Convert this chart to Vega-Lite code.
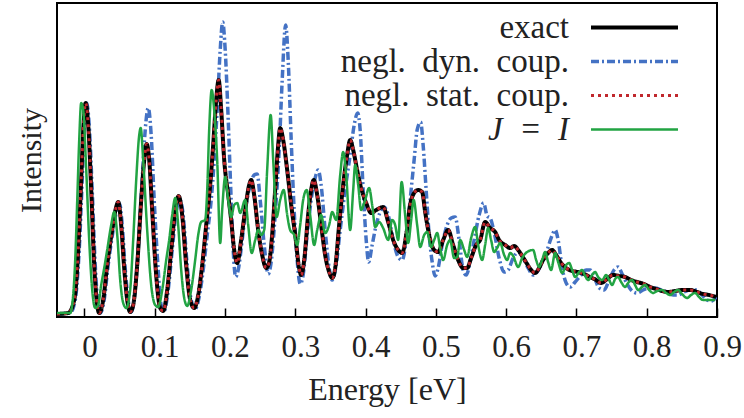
{
"$schema": "https://vega.github.io/schema/vega-lite/v6.json",
"width": 660, "height": 314,
"autosize": {"type": "none"},
"padding": {"left": 57, "top": 3, "right": 27, "bottom": 101},
"background": "white",
"config": {"view": {"stroke": "#000", "strokeWidth": 2}},
"data": {"values": [
{"s":"b","x":-0.039,"y":3},{"s":"b","x":-0.0202,"y":4},{"s":"b","x":-0.0131,"y":17},{"s":"b","x":-0.0074,"y":67},{"s":"b","x":-0.0031,"y":137},{"s":"b","x":-0.0003,"y":187},{"s":"b","x":0.0033,"y":214},{"s":"b","x":0.0068,"y":192},{"s":"b","x":0.0111,"y":127},{"s":"b","x":0.0154,"y":52},{"s":"b","x":0.0196,"y":12},{"s":"b","x":0.0225,"y":4},{"s":"b","x":0.0281,"y":17},{"s":"b","x":0.0338,"y":52},{"s":"b","x":0.041,"y":87},{"s":"b","x":0.0467,"y":109},{"s":"b","x":0.0502,"y":113},{"s":"b","x":0.0538,"y":92},{"s":"b","x":0.058,"y":49},{"s":"b","x":0.0623,"y":17},{"s":"b","x":0.0666,"y":5},{"s":"b","x":0.0708,"y":17},{"s":"b","x":0.0765,"y":67},{"s":"b","x":0.0822,"y":137},{"s":"b","x":0.0865,"y":187},{"s":"b","x":0.0908,"y":209},{"s":"b","x":0.095,"y":182},{"s":"b","x":0.0993,"y":117},{"s":"b","x":0.105,"y":47},{"s":"b","x":0.1092,"y":12},{"s":"b","x":0.1135,"y":6},{"s":"b","x":0.1192,"y":27},{"s":"b","x":0.1249,"y":67},{"s":"b","x":0.1306,"y":105},{"s":"b","x":0.1363,"y":117},{"s":"b","x":0.1405,"y":102},{"s":"b","x":0.1462,"y":52},{"s":"b","x":0.1519,"y":17},{"s":"b","x":0.1576,"y":8},{"s":"b","x":0.1633,"y":20},{"s":"b","x":0.169,"y":47},{"s":"b","x":0.1747,"y":82},{"s":"b","x":0.1804,"y":117},{"s":"b","x":0.1847,"y":157},{"s":"b","x":0.1889,"y":207},{"s":"b","x":0.1932,"y":267},{"s":"b","x":0.1967,"y":295},{"s":"b","x":0.2003,"y":267},{"s":"b","x":0.2046,"y":197},{"s":"b","x":0.2088,"y":117},{"s":"b","x":0.2117,"y":67},{"s":"b","x":0.2152,"y":40},{"s":"b","x":0.2188,"y":47},{"s":"b","x":0.2245,"y":77},{"s":"b","x":0.2302,"y":112},{"s":"b","x":0.2359,"y":132},{"s":"b","x":0.2415,"y":142},{"s":"b","x":0.2458,"y":143},{"s":"b","x":0.2501,"y":117},{"s":"b","x":0.2558,"y":72},{"s":"b","x":0.2615,"y":43},{"s":"b","x":0.2657,"y":55},{"s":"b","x":0.2714,"y":102},{"s":"b","x":0.2771,"y":167},{"s":"b","x":0.2814,"y":237},{"s":"b","x":0.2863,"y":292},{"s":"b","x":0.2899,"y":257},{"s":"b","x":0.2942,"y":177},{"s":"b","x":0.2984,"y":107},{"s":"b","x":0.3027,"y":57},{"s":"b","x":0.307,"y":33},{"s":"b","x":0.3112,"y":42},{"s":"b","x":0.3169,"y":82},{"s":"b","x":0.3226,"y":117},{"s":"b","x":0.3283,"y":139},{"s":"b","x":0.3326,"y":147},{"s":"b","x":0.3368,"y":132},{"s":"b","x":0.3425,"y":87},{"s":"b","x":0.3482,"y":49},{"s":"b","x":0.3525,"y":37},{"s":"b","x":0.3582,"y":52},{"s":"b","x":0.3639,"y":87},{"s":"b","x":0.371,"y":127},{"s":"b","x":0.3781,"y":162},{"s":"b","x":0.3838,"y":192},{"s":"b","x":0.3888,"y":204},{"s":"b","x":0.3923,"y":187},{"s":"b","x":0.3966,"y":127},{"s":"b","x":0.4009,"y":77},{"s":"b","x":0.4044,"y":55},{"s":"b","x":0.4094,"y":72},{"s":"b","x":0.4151,"y":92},{"s":"b","x":0.4208,"y":105},{"s":"b","x":0.4265,"y":110},{"s":"b","x":0.4322,"y":102},{"s":"b","x":0.4393,"y":77},{"s":"b","x":0.4464,"y":60},{"s":"b","x":0.4521,"y":57},{"s":"b","x":0.4578,"y":77},{"s":"b","x":0.4634,"y":117},{"s":"b","x":0.4691,"y":157},{"s":"b","x":0.4734,"y":187},{"s":"b","x":0.4784,"y":195},{"s":"b","x":0.4819,"y":172},{"s":"b","x":0.4862,"y":127},{"s":"b","x":0.4905,"y":82},{"s":"b","x":0.4948,"y":55},{"s":"b","x":0.499,"y":41},{"s":"b","x":0.5033,"y":49},{"s":"b","x":0.509,"y":72},{"s":"b","x":0.5147,"y":89},{"s":"b","x":0.5218,"y":99},{"s":"b","x":0.5275,"y":100},{"s":"b","x":0.5331,"y":77},{"s":"b","x":0.5388,"y":47},{"s":"b","x":0.5431,"y":42},{"s":"b","x":0.5488,"y":55},{"s":"b","x":0.5545,"y":77},{"s":"b","x":0.5616,"y":102},{"s":"b","x":0.568,"y":114},{"s":"b","x":0.573,"y":101},{"s":"b","x":0.5772,"y":99},{"s":"b","x":0.5829,"y":85},{"s":"b","x":0.59,"y":59},{"s":"b","x":0.5971,"y":45},{"s":"b","x":0.6028,"y":47},{"s":"b","x":0.6099,"y":59},{"s":"b","x":0.6171,"y":65},{"s":"b","x":0.6242,"y":59},{"s":"b","x":0.6313,"y":49},{"s":"b","x":0.6384,"y":42},{"s":"b","x":0.6441,"y":45},{"s":"b","x":0.6512,"y":55},{"s":"b","x":0.6583,"y":67},{"s":"b","x":0.664,"y":79},{"s":"b","x":0.6697,"y":87},{"s":"b","x":0.674,"y":77},{"s":"b","x":0.6797,"y":49},{"s":"b","x":0.6854,"y":34},{"s":"b","x":0.6911,"y":30},{"s":"b","x":0.6982,"y":35},{"s":"b","x":0.7067,"y":42},{"s":"b","x":0.7138,"y":47},{"s":"b","x":0.7195,"y":47},{"s":"b","x":0.7252,"y":40},{"s":"b","x":0.7323,"y":29},{"s":"b","x":0.7394,"y":27},{"s":"b","x":0.7465,"y":37},{"s":"b","x":0.7536,"y":47},{"s":"b","x":0.7593,"y":50},{"s":"b","x":0.765,"y":43},{"s":"b","x":0.7721,"y":33},{"s":"b","x":0.7792,"y":26},{"s":"b","x":0.7863,"y":24},{"s":"b","x":0.7949,"y":27},{"s":"b","x":0.8034,"y":29},{"s":"b","x":0.8119,"y":29},{"s":"b","x":0.8205,"y":27},{"s":"b","x":0.829,"y":25},{"s":"b","x":0.8375,"y":22},{"s":"b","x":0.8446,"y":22},{"s":"b","x":0.8532,"y":25},{"s":"b","x":0.8617,"y":27},{"s":"b","x":0.8703,"y":27},{"s":"b","x":0.8788,"y":22},{"s":"b","x":0.8859,"y":17},{"s":"b","x":0.8916,"y":16},{"s":"b","x":0.8987,"y":20},
{"s":"a","x":-0.039,"y":3},{"s":"a","x":-0.023,"y":4},{"s":"a","x":-0.0145,"y":17},{"s":"a","x":-0.0088,"y":67},{"s":"a","x":-0.0046,"y":137},{"s":"a","x":-0.0017,"y":187},{"s":"a","x":0.0018,"y":214},{"s":"a","x":0.0054,"y":192},{"s":"a","x":0.0097,"y":127},{"s":"a","x":0.0139,"y":52},{"s":"a","x":0.0182,"y":12},{"s":"a","x":0.0211,"y":4},{"s":"a","x":0.0267,"y":17},{"s":"a","x":0.0324,"y":52},{"s":"a","x":0.0395,"y":87},{"s":"a","x":0.0452,"y":110},{"s":"a","x":0.0481,"y":115},{"s":"a","x":0.0523,"y":92},{"s":"a","x":0.0566,"y":49},{"s":"a","x":0.0609,"y":17},{"s":"a","x":0.0651,"y":5},{"s":"a","x":0.0694,"y":12},{"s":"a","x":0.0751,"y":52},{"s":"a","x":0.0808,"y":117},{"s":"a","x":0.0851,"y":157},{"s":"a","x":0.0886,"y":173},{"s":"a","x":0.0922,"y":157},{"s":"a","x":0.0964,"y":107},{"s":"a","x":0.1021,"y":42},{"s":"a","x":0.1078,"y":9},{"s":"a","x":0.1121,"y":6},{"s":"a","x":0.1178,"y":27},{"s":"a","x":0.1235,"y":67},{"s":"a","x":0.1292,"y":107},{"s":"a","x":0.1341,"y":121},{"s":"a","x":0.1391,"y":102},{"s":"a","x":0.1448,"y":52},{"s":"a","x":0.1505,"y":17},{"s":"a","x":0.1562,"y":9},{"s":"a","x":0.1619,"y":22},{"s":"a","x":0.1676,"y":52},{"s":"a","x":0.1733,"y":92},{"s":"a","x":0.1789,"y":132},{"s":"a","x":0.1832,"y":172},{"s":"a","x":0.1875,"y":217},{"s":"a","x":0.191,"y":237},{"s":"a","x":0.1946,"y":207},{"s":"a","x":0.1989,"y":157},{"s":"a","x":0.2046,"y":122},{"s":"a","x":0.2088,"y":97},{"s":"a","x":0.2131,"y":67},{"s":"a","x":0.2174,"y":54},{"s":"a","x":0.223,"y":77},{"s":"a","x":0.2287,"y":107},{"s":"a","x":0.2344,"y":132},{"s":"a","x":0.2373,"y":137},{"s":"a","x":0.2415,"y":122},{"s":"a","x":0.2472,"y":87},{"s":"a","x":0.2529,"y":62},{"s":"a","x":0.2586,"y":49},{"s":"a","x":0.2629,"y":55},{"s":"a","x":0.2671,"y":82},{"s":"a","x":0.2714,"y":127},{"s":"a","x":0.2757,"y":172},{"s":"a","x":0.2785,"y":189},{"s":"a","x":0.2828,"y":177},{"s":"a","x":0.2885,"y":147},{"s":"a","x":0.2942,"y":112},{"s":"a","x":0.2999,"y":82},{"s":"a","x":0.3055,"y":49},{"s":"a","x":0.3084,"y":42},{"s":"a","x":0.3127,"y":57},{"s":"a","x":0.3183,"y":102},{"s":"a","x":0.3226,"y":127},{"s":"a","x":0.3262,"y":137},{"s":"a","x":0.3312,"y":122},{"s":"a","x":0.3368,"y":92},{"s":"a","x":0.3425,"y":62},{"s":"a","x":0.3482,"y":45},{"s":"a","x":0.3525,"y":39},{"s":"a","x":0.3568,"y":49},{"s":"a","x":0.3624,"y":92},{"s":"a","x":0.3681,"y":132},{"s":"a","x":0.3738,"y":162},{"s":"a","x":0.3781,"y":177},{"s":"a","x":0.3824,"y":167},{"s":"a","x":0.388,"y":147},{"s":"a","x":0.3937,"y":129},{"s":"a","x":0.4009,"y":114},{"s":"a","x":0.408,"y":104},{"s":"a","x":0.4151,"y":107},{"s":"a","x":0.425,"y":110},{"s":"a","x":0.4322,"y":95},{"s":"a","x":0.4393,"y":77},{"s":"a","x":0.4464,"y":67},{"s":"a","x":0.4521,"y":64},{"s":"a","x":0.4578,"y":82},{"s":"a","x":0.4634,"y":112},{"s":"a","x":0.4691,"y":124},{"s":"a","x":0.4748,"y":127},{"s":"a","x":0.4805,"y":125},{"s":"a","x":0.4848,"y":105},{"s":"a","x":0.4905,"y":82},{"s":"a","x":0.4976,"y":67},{"s":"a","x":0.5033,"y":65},{"s":"a","x":0.5104,"y":77},{"s":"a","x":0.5175,"y":87},{"s":"a","x":0.5246,"y":72},{"s":"a","x":0.5317,"y":57},{"s":"a","x":0.5388,"y":49},{"s":"a","x":0.5445,"y":49},{"s":"a","x":0.5502,"y":59},{"s":"a","x":0.5573,"y":72},{"s":"a","x":0.563,"y":77},{"s":"a","x":0.5701,"y":95},{"s":"a","x":0.5772,"y":89},{"s":"a","x":0.5844,"y":85},{"s":"a","x":0.59,"y":77},{"s":"a","x":0.5986,"y":72},{"s":"a","x":0.6057,"y":69},{"s":"a","x":0.6114,"y":71},{"s":"a","x":0.6171,"y":67},{"s":"a","x":0.6228,"y":61},{"s":"a","x":0.6299,"y":53},{"s":"a","x":0.6356,"y":47},{"s":"a","x":0.6412,"y":44},{"s":"a","x":0.6469,"y":49},{"s":"a","x":0.6526,"y":57},{"s":"a","x":0.6597,"y":64},{"s":"a","x":0.6654,"y":67},{"s":"a","x":0.6711,"y":62},{"s":"a","x":0.6782,"y":54},{"s":"a","x":0.6854,"y":49},{"s":"a","x":0.6939,"y":46},{"s":"a","x":0.7024,"y":45},{"s":"a","x":0.711,"y":43},{"s":"a","x":0.7195,"y":40},{"s":"a","x":0.728,"y":37},{"s":"a","x":0.7351,"y":34},{"s":"a","x":0.7437,"y":38},{"s":"a","x":0.7522,"y":42},{"s":"a","x":0.7607,"y":41},{"s":"a","x":0.7693,"y":40},{"s":"a","x":0.7778,"y":37},{"s":"a","x":0.7863,"y":35},{"s":"a","x":0.7963,"y":33},{"s":"a","x":0.8048,"y":30},{"s":"a","x":0.8134,"y":28},{"s":"a","x":0.8219,"y":26},{"s":"a","x":0.8304,"y":25},{"s":"a","x":0.8404,"y":26},{"s":"a","x":0.8518,"y":27},{"s":"a","x":0.8617,"y":27},{"s":"a","x":0.8717,"y":25},{"s":"a","x":0.8802,"y":23},{"s":"a","x":0.8888,"y":22},{"s":"a","x":0.8987,"y":20},
{"s":"c","x":-0.039,"y":3},{"s":"c","x":-0.023,"y":4},{"s":"c","x":-0.0145,"y":17},{"s":"c","x":-0.0088,"y":67},{"s":"c","x":-0.0046,"y":137},{"s":"c","x":-0.0017,"y":187},{"s":"c","x":0.0018,"y":214},{"s":"c","x":0.0054,"y":192},{"s":"c","x":0.0097,"y":127},{"s":"c","x":0.0139,"y":52},{"s":"c","x":0.0182,"y":12},{"s":"c","x":0.0211,"y":4},{"s":"c","x":0.0267,"y":17},{"s":"c","x":0.0324,"y":52},{"s":"c","x":0.0395,"y":87},{"s":"c","x":0.0452,"y":110},{"s":"c","x":0.0481,"y":115},{"s":"c","x":0.0523,"y":92},{"s":"c","x":0.0566,"y":49},{"s":"c","x":0.0609,"y":17},{"s":"c","x":0.0651,"y":5},{"s":"c","x":0.0694,"y":12},{"s":"c","x":0.0751,"y":52},{"s":"c","x":0.0808,"y":117},{"s":"c","x":0.0851,"y":157},{"s":"c","x":0.0886,"y":173},{"s":"c","x":0.0922,"y":157},{"s":"c","x":0.0964,"y":107},{"s":"c","x":0.1021,"y":42},{"s":"c","x":0.1078,"y":9},{"s":"c","x":0.1121,"y":6},{"s":"c","x":0.1178,"y":27},{"s":"c","x":0.1235,"y":67},{"s":"c","x":0.1292,"y":107},{"s":"c","x":0.1341,"y":121},{"s":"c","x":0.1391,"y":102},{"s":"c","x":0.1448,"y":52},{"s":"c","x":0.1505,"y":17},{"s":"c","x":0.1562,"y":9},{"s":"c","x":0.1619,"y":22},{"s":"c","x":0.1676,"y":52},{"s":"c","x":0.1733,"y":92},{"s":"c","x":0.1789,"y":132},{"s":"c","x":0.1832,"y":172},{"s":"c","x":0.1875,"y":217},{"s":"c","x":0.191,"y":237},{"s":"c","x":0.1946,"y":207},{"s":"c","x":0.1989,"y":157},{"s":"c","x":0.2046,"y":122},{"s":"c","x":0.2088,"y":97},{"s":"c","x":0.2131,"y":67},{"s":"c","x":0.2174,"y":54},{"s":"c","x":0.223,"y":77},{"s":"c","x":0.2287,"y":107},{"s":"c","x":0.2344,"y":132},{"s":"c","x":0.2373,"y":137},{"s":"c","x":0.2415,"y":122},{"s":"c","x":0.2472,"y":87},{"s":"c","x":0.2529,"y":62},{"s":"c","x":0.2586,"y":49},{"s":"c","x":0.2629,"y":55},{"s":"c","x":0.2671,"y":82},{"s":"c","x":0.2714,"y":127},{"s":"c","x":0.2757,"y":172},{"s":"c","x":0.2785,"y":189},{"s":"c","x":0.2828,"y":177},{"s":"c","x":0.2885,"y":147},{"s":"c","x":0.2942,"y":112},{"s":"c","x":0.2999,"y":82},{"s":"c","x":0.3055,"y":49},{"s":"c","x":0.3084,"y":42},{"s":"c","x":0.3127,"y":57},{"s":"c","x":0.3183,"y":102},{"s":"c","x":0.3226,"y":127},{"s":"c","x":0.3262,"y":137},{"s":"c","x":0.3312,"y":122},{"s":"c","x":0.3368,"y":92},{"s":"c","x":0.3425,"y":62},{"s":"c","x":0.3482,"y":45},{"s":"c","x":0.3525,"y":39},{"s":"c","x":0.3568,"y":49},{"s":"c","x":0.3624,"y":92},{"s":"c","x":0.3681,"y":132},{"s":"c","x":0.3738,"y":162},{"s":"c","x":0.3781,"y":177},{"s":"c","x":0.3824,"y":167},{"s":"c","x":0.388,"y":147},{"s":"c","x":0.3937,"y":129},{"s":"c","x":0.4009,"y":114},{"s":"c","x":0.408,"y":104},{"s":"c","x":0.4151,"y":107},{"s":"c","x":0.425,"y":110},{"s":"c","x":0.4322,"y":95},{"s":"c","x":0.4393,"y":77},{"s":"c","x":0.4464,"y":67},{"s":"c","x":0.4521,"y":64},{"s":"c","x":0.4578,"y":82},{"s":"c","x":0.4634,"y":112},{"s":"c","x":0.4691,"y":124},{"s":"c","x":0.4748,"y":127},{"s":"c","x":0.4805,"y":125},{"s":"c","x":0.4848,"y":105},{"s":"c","x":0.4905,"y":82},{"s":"c","x":0.4976,"y":67},{"s":"c","x":0.5033,"y":65},{"s":"c","x":0.5104,"y":77},{"s":"c","x":0.5175,"y":87},{"s":"c","x":0.5246,"y":72},{"s":"c","x":0.5317,"y":57},{"s":"c","x":0.5388,"y":49},{"s":"c","x":0.5445,"y":49},{"s":"c","x":0.5502,"y":59},{"s":"c","x":0.5573,"y":72},{"s":"c","x":0.563,"y":77},{"s":"c","x":0.5701,"y":95},{"s":"c","x":0.5772,"y":89},{"s":"c","x":0.5844,"y":85},{"s":"c","x":0.59,"y":77},{"s":"c","x":0.5986,"y":72},{"s":"c","x":0.6057,"y":69},{"s":"c","x":0.6114,"y":71},{"s":"c","x":0.6171,"y":67},{"s":"c","x":0.6228,"y":61},{"s":"c","x":0.6299,"y":53},{"s":"c","x":0.6356,"y":47},{"s":"c","x":0.6412,"y":44},{"s":"c","x":0.6469,"y":49},{"s":"c","x":0.6526,"y":57},{"s":"c","x":0.6597,"y":64},{"s":"c","x":0.6654,"y":67},{"s":"c","x":0.6711,"y":62},{"s":"c","x":0.6782,"y":54},{"s":"c","x":0.6854,"y":49},{"s":"c","x":0.6939,"y":46},{"s":"c","x":0.7024,"y":45},{"s":"c","x":0.711,"y":43},{"s":"c","x":0.7195,"y":40},{"s":"c","x":0.728,"y":37},{"s":"c","x":0.7351,"y":34},{"s":"c","x":0.7437,"y":38},{"s":"c","x":0.7522,"y":42},{"s":"c","x":0.7607,"y":41},{"s":"c","x":0.7693,"y":40},{"s":"c","x":0.7778,"y":37},{"s":"c","x":0.7863,"y":35},{"s":"c","x":0.7963,"y":33},{"s":"c","x":0.8048,"y":30},{"s":"c","x":0.8134,"y":28},{"s":"c","x":0.8219,"y":26},{"s":"c","x":0.8304,"y":25},{"s":"c","x":0.8404,"y":26},{"s":"c","x":0.8518,"y":27},{"s":"c","x":0.8617,"y":27},{"s":"c","x":0.8717,"y":25},{"s":"c","x":0.8802,"y":23},{"s":"c","x":0.8888,"y":22},{"s":"c","x":0.8987,"y":20},
{"s":"d","x":-0.039,"y":4},{"s":"d","x":-0.0202,"y":4},{"s":"d","x":-0.0174,"y":12},{"s":"d","x":-0.0131,"y":57},{"s":"d","x":-0.0102,"y":117},{"s":"d","x":-0.0074,"y":177},{"s":"d","x":-0.0046,"y":214},{"s":"d","x":-0.0017,"y":207},{"s":"d","x":0.0026,"y":147},{"s":"d","x":0.0068,"y":77},{"s":"d","x":0.0111,"y":27},{"s":"d","x":0.0154,"y":9},{"s":"d","x":0.0196,"y":12},{"s":"d","x":0.0239,"y":32},{"s":"d","x":0.0282,"y":49},{"s":"d","x":0.0324,"y":67},{"s":"d","x":0.0381,"y":92},{"s":"d","x":0.0424,"y":105},{"s":"d","x":0.0467,"y":82},{"s":"d","x":0.0509,"y":37},{"s":"d","x":0.0552,"y":14},{"s":"d","x":0.0595,"y":9},{"s":"d","x":0.0651,"y":27},{"s":"d","x":0.0694,"y":77},{"s":"d","x":0.0737,"y":137},{"s":"d","x":0.078,"y":182},{"s":"d","x":0.0801,"y":189},{"s":"d","x":0.0836,"y":157},{"s":"d","x":0.0893,"y":87},{"s":"d","x":0.095,"y":32},{"s":"d","x":0.1007,"y":12},{"s":"d","x":0.105,"y":10},{"s":"d","x":0.1107,"y":27},{"s":"d","x":0.1164,"y":57},{"s":"d","x":0.1206,"y":77},{"s":"d","x":0.1249,"y":102},{"s":"d","x":0.1292,"y":119},{"s":"d","x":0.1334,"y":92},{"s":"d","x":0.1377,"y":47},{"s":"d","x":0.142,"y":19},{"s":"d","x":0.1462,"y":11},{"s":"d","x":0.1519,"y":27},{"s":"d","x":0.1576,"y":57},{"s":"d","x":0.1619,"y":82},{"s":"d","x":0.1661,"y":95},{"s":"d","x":0.1718,"y":97},{"s":"d","x":0.1747,"y":127},{"s":"d","x":0.1775,"y":187},{"s":"d","x":0.1811,"y":227},{"s":"d","x":0.1846,"y":207},{"s":"d","x":0.1889,"y":157},{"s":"d","x":0.1932,"y":74},{"s":"d","x":0.196,"y":107},{"s":"d","x":0.2003,"y":140},{"s":"d","x":0.2046,"y":117},{"s":"d","x":0.2088,"y":100},{"s":"d","x":0.2131,"y":112},{"s":"d","x":0.2174,"y":114},{"s":"d","x":0.2216,"y":104},{"s":"d","x":0.2287,"y":117},{"s":"d","x":0.233,"y":92},{"s":"d","x":0.238,"y":64},{"s":"d","x":0.243,"y":77},{"s":"d","x":0.2472,"y":87},{"s":"d","x":0.2515,"y":82},{"s":"d","x":0.2558,"y":87},{"s":"d","x":0.26,"y":147},{"s":"d","x":0.265,"y":202},{"s":"d","x":0.2686,"y":157},{"s":"d","x":0.2735,"y":100},{"s":"d","x":0.2785,"y":117},{"s":"d","x":0.2835,"y":127},{"s":"d","x":0.2885,"y":102},{"s":"d","x":0.2927,"y":87},{"s":"d","x":0.2984,"y":82},{"s":"d","x":0.3027,"y":72},{"s":"d","x":0.307,"y":92},{"s":"d","x":0.3112,"y":117},{"s":"d","x":0.3162,"y":127},{"s":"d","x":0.3212,"y":102},{"s":"d","x":0.3269,"y":72},{"s":"d","x":0.3312,"y":87},{"s":"d","x":0.3368,"y":102},{"s":"d","x":0.3425,"y":84},{"s":"d","x":0.3482,"y":92},{"s":"d","x":0.3525,"y":105},{"s":"d","x":0.3582,"y":97},{"s":"d","x":0.3639,"y":142},{"s":"d","x":0.3681,"y":165},{"s":"d","x":0.3724,"y":142},{"s":"d","x":0.3781,"y":87},{"s":"d","x":0.3824,"y":127},{"s":"d","x":0.3852,"y":152},{"s":"d","x":0.3895,"y":132},{"s":"d","x":0.3937,"y":107},{"s":"d","x":0.3994,"y":117},{"s":"d","x":0.4051,"y":129},{"s":"d","x":0.4094,"y":112},{"s":"d","x":0.4137,"y":90},{"s":"d","x":0.4194,"y":95},{"s":"d","x":0.425,"y":89},{"s":"d","x":0.4322,"y":77},{"s":"d","x":0.4378,"y":97},{"s":"d","x":0.4421,"y":92},{"s":"d","x":0.4464,"y":77},{"s":"d","x":0.4513,"y":135},{"s":"d","x":0.4563,"y":102},{"s":"d","x":0.4606,"y":74},{"s":"d","x":0.4649,"y":97},{"s":"d","x":0.4684,"y":117},{"s":"d","x":0.4734,"y":92},{"s":"d","x":0.4777,"y":70},{"s":"d","x":0.4834,"y":82},{"s":"d","x":0.4876,"y":85},{"s":"d","x":0.4933,"y":70},{"s":"d","x":0.4976,"y":77},{"s":"d","x":0.5019,"y":84},{"s":"d","x":0.5061,"y":69},{"s":"d","x":0.5104,"y":57},{"s":"d","x":0.5161,"y":72},{"s":"d","x":0.5203,"y":77},{"s":"d","x":0.526,"y":59},{"s":"d","x":0.5303,"y":60},{"s":"d","x":0.5346,"y":77},{"s":"d","x":0.5403,"y":67},{"s":"d","x":0.5445,"y":60},{"s":"d","x":0.5502,"y":79},{"s":"d","x":0.5559,"y":90},{"s":"d","x":0.5602,"y":72},{"s":"d","x":0.5659,"y":57},{"s":"d","x":0.5701,"y":72},{"s":"d","x":0.5744,"y":89},{"s":"d","x":0.5786,"y":77},{"s":"d","x":0.5829,"y":65},{"s":"d","x":0.5872,"y":69},{"s":"d","x":0.5915,"y":74},{"s":"d","x":0.5972,"y":62},{"s":"d","x":0.6014,"y":57},{"s":"d","x":0.6057,"y":64},{"s":"d","x":0.61,"y":61},{"s":"d","x":0.6171,"y":50},{"s":"d","x":0.6228,"y":59},{"s":"d","x":0.6299,"y":65},{"s":"d","x":0.6384,"y":67},{"s":"d","x":0.6427,"y":57},{"s":"d","x":0.6469,"y":50},{"s":"d","x":0.6512,"y":57},{"s":"d","x":0.6555,"y":65},{"s":"d","x":0.6597,"y":55},{"s":"d","x":0.664,"y":47},{"s":"d","x":0.6697,"y":64},{"s":"d","x":0.674,"y":55},{"s":"d","x":0.6797,"y":44},{"s":"d","x":0.6854,"y":52},{"s":"d","x":0.6896,"y":54},{"s":"d","x":0.6939,"y":47},{"s":"d","x":0.6982,"y":40},{"s":"d","x":0.7039,"y":45},{"s":"d","x":0.7081,"y":47},{"s":"d","x":0.7124,"y":41},{"s":"d","x":0.7167,"y":37},{"s":"d","x":0.7223,"y":42},{"s":"d","x":0.7266,"y":45},{"s":"d","x":0.7309,"y":40},{"s":"d","x":0.7366,"y":37},{"s":"d","x":0.7423,"y":42},{"s":"d","x":0.7465,"y":37},{"s":"d","x":0.7508,"y":32},{"s":"d","x":0.7551,"y":38},{"s":"d","x":0.7593,"y":40},{"s":"d","x":0.7636,"y":35},{"s":"d","x":0.7693,"y":30},{"s":"d","x":0.7735,"y":34},{"s":"d","x":0.7792,"y":37},{"s":"d","x":0.7835,"y":32},{"s":"d","x":0.7877,"y":27},{"s":"d","x":0.7934,"y":30},{"s":"d","x":0.7977,"y":32},{"s":"d","x":0.8034,"y":27},{"s":"d","x":0.8091,"y":24},{"s":"d","x":0.8148,"y":26},{"s":"d","x":0.8219,"y":27},{"s":"d","x":0.8276,"y":24},{"s":"d","x":0.8333,"y":22},{"s":"d","x":0.839,"y":25},{"s":"d","x":0.8446,"y":27},{"s":"d","x":0.8503,"y":23},{"s":"d","x":0.8574,"y":19},{"s":"d","x":0.8631,"y":22},{"s":"d","x":0.8688,"y":24},{"s":"d","x":0.8745,"y":20},{"s":"d","x":0.8802,"y":17},{"s":"d","x":0.8888,"y":17},{"s":"d","x":0.8973,"y":17}
]},
"mark": {"type": "line", "interpolate": "monotone", "clip": true},
"encoding": {
  "x": {"field": "x", "type": "quantitative",
        "scale": {"domain": [-0.039, 0.9], "nice": false, "zero": false},
        "axis": {"values": [0, 0.1, 0.2, 0.3, 0.4, 0.5, 0.6, 0.7, 0.8, 0.9], "format": ".1~f",
                 "grid": false, "domain": false, "tickSize": -9, "tickColor": "#000", "tickWidth": 1.5,
                 "labelFont": "Liberation Serif", "labelFontSize": 31, "labelColor": "#222",
                 "labelPadding": 24, "labelOffset": 5, "labelFlush": false, "labelOverlap": false,
                 "title": "Energy [eV]", "titleFont": "Liberation Serif", "titleFontSize": 32,
                 "titleFontWeight": "normal", "titleColor": "#222", "titlePadding": 12}},
  "y": {"field": "y", "type": "quantitative",
        "scale": {"domain": [0, 314], "nice": false},
        "axis": {"grid": false, "domain": false, "ticks": false, "labels": false, "minExtent": 0,
                 "title": "Intensity", "titleFont": "Liberation Serif", "titleFontSize": 30,
                 "titleFontWeight": "normal", "titleColor": "#222", "titlePadding": 11}},
  "color": {"field": "s", "type": "nominal",
            "scale": {"domain": ["a", "b", "c", "d"], "range": ["#000000", "#4472c4", "#c0282d", "#22a443"]},
            "legend": {"orient": "none", "legendX": 561, "legendY": 8, "title": null,
                       "labelExpr": "datum.label == 'a' ? 'exact' : datum.label == 'b' ? 'negl.\u2002dyn.\u2002coup.' : datum.label == 'c' ? 'negl.\u2002stat.\u2002coup.' : 'J\u2002=\u2002I'",
                       "labelAlign": "right", "labelOffset": -82, "symbolType": "M-3,0H3", "symbolSize": 841,
                       "labelFont": "Liberation Serif", "labelFontSize": 33, "labelColor": "#222",
                       "rowPadding": 0, "labelLimit": 0,
                       "encode": {"labels": {"update": {"fontStyle": {"signal": "datum.value == 'd' ? 'italic' : 'normal'"}}}}}},
  "strokeDash": {"field": "s", "type": "nominal",
                 "scale": {"domain": ["a", "b", "c", "d"], "range": [[1, 0], [8, 3, 2, 3], [3, 4], [1, 0]]}},
  "strokeWidth": {"field": "s", "type": "nominal",
                  "scale": {"domain": ["a", "b", "c", "d"], "range": [4, 2.5, 2.5, 2]}}
}
}
